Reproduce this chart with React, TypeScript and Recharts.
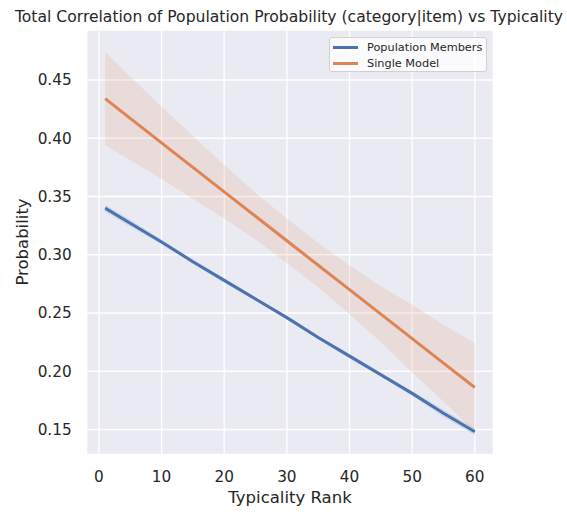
import { ComposedChart, Line, Area, XAxis, YAxis, CartesianGrid } from 'recharts';

// Typicality rank sample positions along the fitted lines
const ranks = [1, 5, 10, 15, 20, 25, 30, 35, 40, 45, 50, 55, 60];

// Population Members: regression line and its confidence band
const popMean = [0.34, 0.327, 0.311, 0.294, 0.278, 0.262, 0.246, 0.229, 0.213, 0.197, 0.181, 0.164, 0.148];
const popLow = [0.337, 0.324, 0.309, 0.292, 0.276, 0.2605, 0.2445, 0.2275, 0.211, 0.195, 0.179, 0.161, 0.145];
const popHigh = [0.343, 0.33, 0.313, 0.296, 0.28, 0.2635, 0.2475, 0.2305, 0.215, 0.199, 0.183, 0.167, 0.151];

// Single Model: regression line and its confidence band
const singleMean = [0.434, 0.417, 0.396, 0.375, 0.354, 0.333, 0.312, 0.291, 0.27, 0.249, 0.228, 0.207, 0.186];
const singleLow = [0.394, 0.381, 0.365, 0.348, 0.331, 0.313, 0.293, 0.272, 0.249, 0.225, 0.199, 0.174, 0.148];
const singleHigh = [0.474, 0.453, 0.427, 0.402, 0.377, 0.353, 0.331, 0.31, 0.291, 0.273, 0.257, 0.24, 0.224];

const xTicks = [0, 10, 20, 30, 40, 50, 60];
const yTicks = [0.15, 0.2, 0.25, 0.3, 0.35, 0.4, 0.45];

const series = [
  { name: 'Population Members', color: '#4c72b0' },
  { name: 'Single Model', color: '#dd8452' },
];

const rows = ranks.map((rank, i) => ({
  rank,
  popMean: popMean[i],
  popBand: [popLow[i], popHigh[i]],
  singleMean: singleMean[i],
  singleBand: [singleLow[i], singleHigh[i]],
}));

const FONT = '"DejaVu Sans", sans-serif';
const INK = '#262626';

const LegendBox = () => (
  <div
    style={{
      position: 'absolute',
      left: 329,
      top: 37,
      width: 158,
      height: 35,
      background: 'rgba(255,255,255,0.8)',
      border: '1px solid #d0d0d0',
      borderRadius: 3,
      padding: '1px 0 0 3px',
      fontFamily: FONT,
      fontSize: 11.3,
      color: INK,
      boxSizing: 'border-box',
      whiteSpace: 'nowrap',
    }}
  >
    {series.map((s) => (
      <div key={s.name} style={{ display: 'flex', alignItems: 'center', height: 16 }}>
        <span style={{ display: 'inline-block', width: 25, height: 3, background: s.color, marginRight: 9 }} />
        <span>{s.name}</span>
      </div>
    ))}
  </div>
);

export default function App() {
  return (
    <div style={{ position: 'absolute', left: 0, top: 0, width: 567, height: 512, background: '#fff' }}>
      <ComposedChart
        width={567}
        height={512}
        data={rows}
        margin={{ top: 30, right: 73.7, bottom: 27.7, left: 26.7 }}
      >
        <CartesianGrid fill="#eaeaf2" stroke="#ffffff" strokeWidth={1.3} />
        <XAxis
          type="number"
          dataKey="rank"
          domain={[-1.95, 62.95]}
          ticks={xTicks}
          allowDataOverflow
          height={30}
          axisLine={false}
          tickLine={false}
          tickSize={0}
          tickMargin={17}
          tick={{ fill: INK, fontSize: 15.3, fontFamily: FONT }}
        />
        <YAxis
          type="number"
          domain={[0.1287, 0.4929]}
          ticks={yTicks}
          allowDataOverflow
          width={60}
          axisLine={false}
          tickLine={false}
          tickSize={0}
          tickMargin={15}
          tickFormatter={(v: number) => v.toFixed(2)}
          tick={{ fill: INK, fontSize: 15.3, fontFamily: FONT }}
        />
        <Area
          type="linear"
          dataKey="popBand"
          stroke="none"
          fill="#4c72b0"
          fillOpacity={0.15}
          isAnimationActive={false}
        />
        <Area
          type="linear"
          dataKey="singleBand"
          stroke="none"
          fill="#dd8452"
          fillOpacity={0.15}
          isAnimationActive={false}
        />
        <Line
          type="linear"
          dataKey="popMean"
          stroke="#4c72b0"
          strokeWidth={3}
          dot={false}
          isAnimationActive={false}
        />
        <Line
          type="linear"
          dataKey="singleMean"
          stroke="#dd8452"
          strokeWidth={3}
          dot={false}
          isAnimationActive={false}
        />
      </ComposedChart>
      <LegendBox />
      <svg
        width={567}
        height={512}
        style={{ position: 'absolute', left: 0, top: 0, pointerEvents: 'none' }}
        fontFamily={FONT}
        fill={INK}
      >
        <text x={289} y={22} textAnchor="middle" fontSize={15.6}>
          Total Correlation of Population Probability (category|item) vs Typicality
        </text>
        <text x={290} y={503} textAnchor="middle" fontSize={16.5}>
          Typicality Rank
        </text>
        <text x={28} y={242} textAnchor="middle" fontSize={16.5} transform="rotate(-90 28 242)">
          Probability
        </text>
      </svg>
    </div>
  );
}
